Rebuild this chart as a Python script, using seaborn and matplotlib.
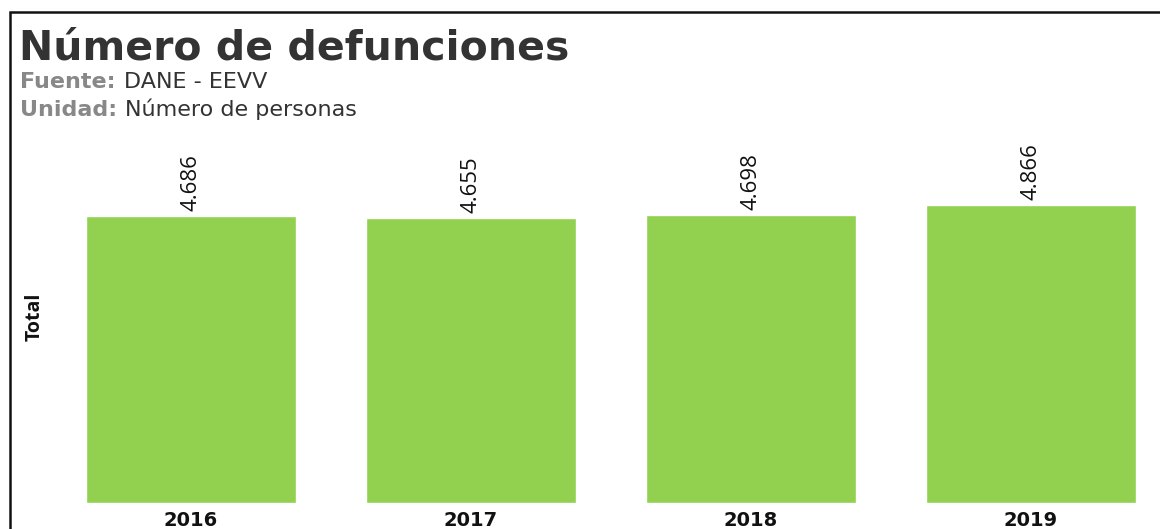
"""Número de defunciones por año."""

import matplotlib.pyplot as plt
import matplotlib.patches as mpatches
import pandas as pd
import seaborn as sns

years = ["2016", "2017", "2018", "2019"]
totals = [4686, 4655, 4698, 4866]
value_labels = ["4.686", "4.655", "4.698", "4.866"]

df = pd.DataFrame({"year": years, "total": totals})

sns.set_theme(style="white")
plt.rcParams["font.family"] = ["DejaVu Sans"]

W, H = 1160, 529
fig = plt.figure(figsize=(W / 100, H / 100), dpi=100)
ax = fig.add_axes([51 / W, 1 - 503 / H, (W - 51) / W, 363 / H])

sns.barplot(data=df, x="year", y="total", color="#92D050", saturation=1,
            width=0.75, ax=ax)

ax.set_xlim(-0.5, -0.5 + (W - 51) / 280)
ax.set_ylim(0, 5931)
sns.despine(ax=ax, left=True, bottom=True)
ax.set_yticks([])
ax.set_xlabel("")
ax.set_ylabel("")
ax.tick_params(axis="x", length=0, pad=6)
for lbl in ax.get_xticklabels():
    lbl.set_fontweight("bold")
    lbl.set_fontsize(14)
    lbl.set_color("#111111")

narrow = ["Open Sans", "DejaVu Sans"]
for i, (v, txt) in enumerate(zip(totals, value_labels)):
    ax.annotate(txt, (i, v), xytext=(0, 4), textcoords="offset points",
                rotation=90, ha="center", va="bottom", fontsize=16,
                family=narrow, color="#111111")

fig.text(35 / W, 1 - 317 / H, "Total", rotation=90, ha="center", va="center",
         fontsize=14, fontweight="bold", family=narrow, color="#111111")

# header
fig.text(19 / W, 1 - 59 / H, "Número de defunciones", fontsize=29.5,
         fontweight="bold", color="#333333", va="baseline")
src = fig.text(20 / W, 1 - 88 / H, "Fuente:", fontsize=16,
               fontweight="bold", color="#888888", va="baseline")
ax.annotate("DANE - EEVV", xy=(1, 0), xycoords=src, xytext=(6, 0),
            textcoords="offset points", fontsize=16, color="#333333",
            va="bottom", annotation_clip=False)
unit = fig.text(20 / W, 1 - 116 / H, "Unidad:", fontsize=16,
                fontweight="bold", color="#888888", va="baseline")
ax.annotate("Número de personas", xy=(1, 0), xycoords=unit, xytext=(6, 0),
            textcoords="offset points", fontsize=16, color="#333333",
            va="bottom", annotation_clip=False)

# frame around the visual
fig.patches.append(mpatches.Rectangle((10 / W, -0.1), 1.2, 1.1 - 12 / H,
                                      transform=fig.transFigure, fill=False,
                                      edgecolor="#111111", linewidth=1.8))

fig.savefig("out.png", dpi=100)
